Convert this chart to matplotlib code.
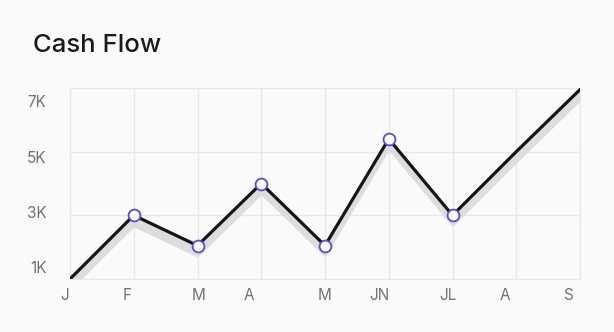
import matplotlib.pyplot as plt
import matplotlib.transforms as mtransforms
import numpy as np

plt.rcParams['font.family'] = ['Inter', 'DejaVu Sans']

# 数据 (单位: K)
months = ['J', 'F', 'M', 'A', 'M', 'JN', 'JL', 'A', 'S']
cash = [1.0, 3.0, 2.05, 4.0, 2.05, 5.4, 3.0, 5.0, 6.95]
marked = [1, 2, 3, 4, 5, 6]          # 带圆点的月份
month_label_pos = [-0.09, 0.90, 2.01, 2.80, 4.00, 4.85, 5.93, 6.82, 7.81]
y_grid = [1, 3, 5, 7]
y_labels = ['1K', '3K', '5K', '7K']
y_label_pos = [1.37, 3.10, 4.83, 6.60]

bg = '#fafafa'
fig = plt.figure(figsize=(6.14, 3.32), dpi=100, facecolor=bg)
ax = fig.add_axes([70/614, 1-279/332, 510/614, 191/332], facecolor=bg)

x = np.arange(len(cash))
y = np.array(cash)

ax.fill_between(x, y - 0.36, y, color='#dddddd', lw=0, zorder=2)
ax.plot(x, y, color='#151515', lw=2.3, zorder=3, solid_joinstyle='miter')
ax.plot(x[marked], y[marked], 'o', ms=8.5, mfc='white', mec='#5a48e0', mew=1.3, zorder=4)

# 网格线
ax.set_xticks(x)
ax.set_xticklabels([])
ax.set_yticks(y_grid, minor=True)
ax.grid(which='both', color='#e8e8e8', lw=1)
ax.yaxis.grid(which='major', visible=False)
ax.tick_params(which='both', length=0)

# 刻度标签
trans = mtransforms.blended_transform_factory(ax.transData, ax.transAxes)
for p, m in zip(month_label_pos, months):
    ax.text(p, -16/191, m, transform=trans, ha='center', va='center',
            fontsize=11, color='#727272', clip_on=False)
ax.set_yticks(y_label_pos, y_labels)
ax.tick_params(axis='y', labelsize=11, labelcolor='#727272', pad=17)

ax.set_xlim(0, 8)
ax.set_ylim(1, 7)

for s in ax.spines.values():
    s.set_color('#e8e8e8')

fig.text(33/614, 1-45/332, 'Cash Flow', fontsize=18.5, color='#1a1a1a', va='center', ha='left', fontweight='medium')

plt.savefig('out.png', dpi=100, facecolor=bg)
